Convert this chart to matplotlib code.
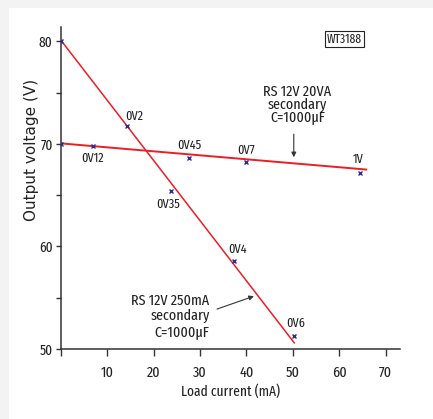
import matplotlib
matplotlib.use("Agg")
import matplotlib.pyplot as plt
from matplotlib.patches import Rectangle

# 12V 250mA transformer
small_current = [0.0, 14.3, 23.8, 37.2, 50.2]
small_voltage = [80.0, 71.7, 65.4, 58.6, 51.3]
small_labels = ["", "0V2", "0V35", "0V4", "0V6"]
small_fit_x = [0.0, 50.3]
small_fit_y = [80.1, 50.6]

# 12V 20VA transformer
big_current = [0.0, 6.8, 27.7, 39.8, 64.5]
big_voltage = [70.0, 69.75, 68.6, 68.2, 67.2]
big_labels = ["", "0V12", "0V45", "0V7", "1V"]
big_fit_x = [0.0, 65.8]
big_fit_y = [70.05, 67.5]

x_ticks = [0, 10, 20, 30, 40, 50, 60, 70]
x_ticklabels = ["", "10", "20", "30", "40", "50", "60", "70"]
y_ticks = [50, 60, 70, 80]

narrow = ["Fira Sans Extra Condensed", "Roboto Condensed", "DejaVu Sans"]
plt.rcParams["font.family"] = narrow

fig = plt.figure(figsize=(4.33, 4.19), dpi=100, facecolor="#f3f3f3")
fig.patches.append(Rectangle((9 / 433, 0), 1, 1 - 8 / 419, transform=fig.transFigure,
                             facecolor="white", edgecolor="none", zorder=-1))
ax = fig.add_axes([61 / 433, 70 / 419, 339 / 433, 322 / 419])
ax.set_facecolor("none")

red = "#ee1c25"
blue = "#2a2a9a"
ax.plot(small_fit_x, small_fit_y, color=red, lw=1.1, zorder=2)
ax.plot(big_fit_x, big_fit_y, color=red, lw=1.4, zorder=2)
ax.plot(small_current, small_voltage, "x", color=blue, ms=3.5, mew=1.0, zorder=3)
ax.plot(big_current, big_voltage, "x", color=blue, ms=3.5, mew=1.0, zorder=3)

# label offsets in points
small_off = [(0, 0), (5, 7.5), (-2, -9.5), (3, 8), (1.5, 9)]
big_off = [(0, 0), (0, -8.5), (0, 9), (0, 8.7), (-1, 9.7)]
for xs, ys, labs, offs in [(small_current, small_voltage, small_labels, small_off),
                           (big_current, big_voltage, big_labels, big_off)]:
    for x, y, lab, off in zip(xs, ys, labs, offs):
        if lab:
            ax.annotate(lab, (x, y), xytext=off, textcoords="offset points",
                        ha="center", va="center", fontsize=9.5, color="#222222")

ax.annotate("RS 12V 20VA\nsecondary\nC=1000\u00b5F", xy=(50.2, 68.7), xytext=(51.0, 71.9),
            ha="center", va="bottom", fontsize=11, linespacing=0.85, color="#222222",
            arrowprops=dict(arrowstyle="-|>", color="#333333", lw=0.8, mutation_scale=7,
                            shrinkA=5, shrinkB=0, relpos=(0.445, 0)))
ax.annotate("RS 12V 250mA\nsecondary\nC=1000\u00b5F", xy=(41.6, 55.15), xytext=(32.05, 53.2),
            ha="right", va="center", fontsize=11, linespacing=1.1, color="#222222",
            arrowprops=dict(arrowstyle="-|>", color="#333333", lw=0.8, mutation_scale=7,
                            relpos=(1, 0.6), shrinkA=3.5, shrinkB=0))

ax.set_xlim(0, 73.1)
ax.set_ylim(50, 81.4)
ax.set_xticks(x_ticks)
ax.set_xticklabels(x_ticklabels)
ax.set_yticks(y_ticks)
ax.set_yticks([55, 65, 75], minor=True)
for s in ["top", "right"]:
    ax.spines[s].set_visible(False)
for s in ["left", "bottom"]:
    ax.spines[s].set_color("#333333")
    ax.spines[s].set_linewidth(1.1)
ax.tick_params(axis="x", direction="out", length=5, width=1, pad=7, labelsize=11, colors="#333333")
ax.tick_params(axis="y", which="both", direction="out", length=3.5, width=1, pad=2.5,
               labelsize=10.5, colors="#333333")
for lab in ax.get_xticklabels() + ax.get_yticklabels():
    lab.set_color("#222222")

ax.set_xlabel("Load current (mA)", fontsize=10.5, color="#222222", labelpad=3)
fig.text(32 / 433, 1 - 150 / 419, "Output voltage (V)", rotation=90, ha="center", va="center",
         fontsize=11, family="DejaVu Sans", color="#222222")
fig.text(344.5 / 433, 1 - 39 / 419, "WT3188", ha="center", va="center", fontsize=9,
         color="#222222",
         bbox=dict(boxstyle="square,pad=0.15", facecolor="white", edgecolor="#222222", lw=0.8))

fig.savefig("out.png", dpi=100, facecolor=fig.get_facecolor())
